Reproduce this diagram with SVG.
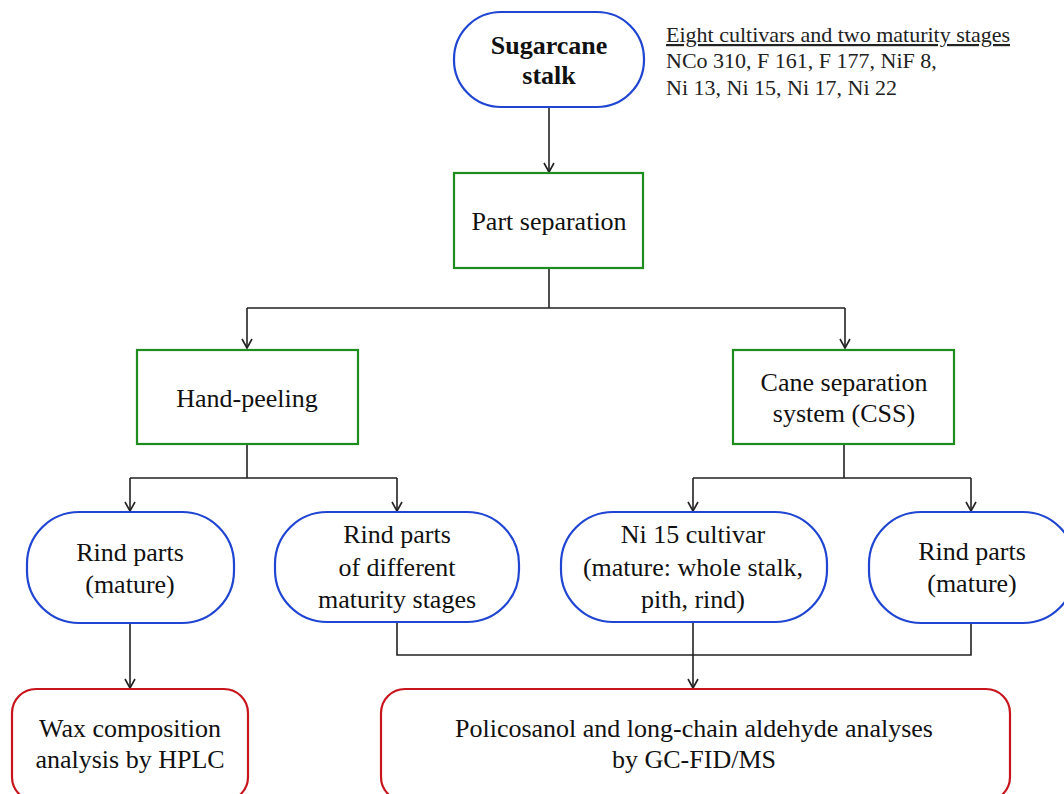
<svg xmlns="http://www.w3.org/2000/svg" width="1064" height="794" viewBox="0 0 1064 794">
<style>
.t{font-family:"Liberation Serif","Times New Roman",serif;font-size:26px;fill:#111;text-anchor:middle}
.b{font-weight:bold}
.a{font-family:"Liberation Serif","Times New Roman",serif;font-size:22px;fill:#222}
.blue{fill:#fff;stroke:#1f45d2;stroke-width:2.2}
.green{fill:#fff;stroke:#1e8c1e;stroke-width:2.2}
.red{fill:#fff;stroke:#c8141c;stroke-width:2.2}
.c{fill:none;stroke:#222;stroke-width:1.6}
.ar{marker-end:url(#arr)}
</style>
<defs>
<marker id="arr" markerWidth="12" markerHeight="12" refX="10" refY="6" orient="auto" markerUnits="userSpaceOnUse" viewBox="0 0 12 12">
<path d="M1,1 L10,6 L1,11" fill="none" stroke="#222" stroke-width="1.6"/>
</marker>
</defs>
<g id="connectors">
<path class="c ar" d="M549,107 V172"/>
<path class="c" d="M549,268 V308 M247,308 H845"/>
<path class="c ar" d="M247,308 V348"/>
<path class="c ar" d="M845,308 V348"/>
<path class="c" d="M247,444 V478 M130,478 H397"/>
<path class="c ar" d="M130,478 V511"/>
<path class="c ar" d="M397,478 V511"/>
<path class="c" d="M844,444 V478 M693,478 H971"/>
<path class="c ar" d="M693,478 V511"/>
<path class="c ar" d="M971,478 V511"/>
<path class="c ar" d="M130,623 V688"/>
<path class="c" d="M397,622 V655 H971 V623"/>
<path class="c ar" d="M693,622 V688"/>
</g>
<g id="stalk">
<rect class="blue" x="454" y="12" width="190" height="95" rx="47" ry="47"/>
<text class="t b" x="549" y="54">Sugarcane</text>
<text class="t b" x="549" y="84">stalk</text>
</g>
<g id="annotation">
<text class="a" x="666" y="42" text-decoration="underline">Eight cultivars and two maturity stages</text>
<text class="a" x="666" y="68">NCo 310, F 161, F 177, NiF 8,</text>
<text class="a" x="666" y="95">Ni 13, Ni 15, Ni 17, Ni 22</text>
</g>
<g id="part-separation">
<rect class="green" x="454" y="173" width="189" height="95"/>
<text class="t" x="549" y="230">Part separation</text>
</g>
<g id="hand-peeling">
<rect class="green" x="137" y="350" width="221" height="94"/>
<text class="t" x="247" y="407">Hand-peeling</text>
</g>
<g id="css">
<rect class="green" x="733" y="350" width="221" height="94"/>
<text class="t" x="844" y="391">Cane separation</text>
<text class="t" x="844" y="422">system (CSS)</text>
</g>
<g id="rind-left">
<rect class="blue" x="27" y="512" width="207" height="111" rx="52" ry="52"/>
<text class="t" x="130" y="561">Rind parts</text>
<text class="t" x="130" y="593">(mature)</text>
</g>
<g id="rind-different">
<rect class="blue" x="275" y="512" width="244" height="110" rx="52" ry="52"/>
<text class="t" x="397" y="543">Rind parts</text>
<text class="t" x="397" y="576">of different</text>
<text class="t" x="397" y="608">maturity stages</text>
</g>
<g id="ni15">
<rect class="blue" x="561" y="512" width="266" height="110" rx="52" ry="52"/>
<text class="t" x="693" y="543">Ni 15 cultivar</text>
<text class="t" x="693" y="576">(mature: whole stalk,</text>
<text class="t" x="693" y="608">pith, rind)</text>
</g>
<g id="rind-right">
<rect class="blue" x="869" y="512" width="206" height="111" rx="52" ry="52"/>
<text class="t" x="972" y="560">Rind parts</text>
<text class="t" x="972" y="592">(mature)</text>
</g>
<g id="wax">
<rect class="red" x="12" y="689" width="236" height="112" rx="24" ry="24"/>
<text class="t" x="130" y="737">Wax composition</text>
<text class="t" x="130" y="768">analysis by HPLC</text>
</g>
<g id="policosanol">
<rect class="red" x="381" y="689" width="629" height="112" rx="24" ry="24"/>
<text class="t" x="694" y="737">Policosanol and long-chain aldehyde analyses</text>
<text class="t" x="694" y="768">by GC-FID/MS</text>
</g>
</svg>
